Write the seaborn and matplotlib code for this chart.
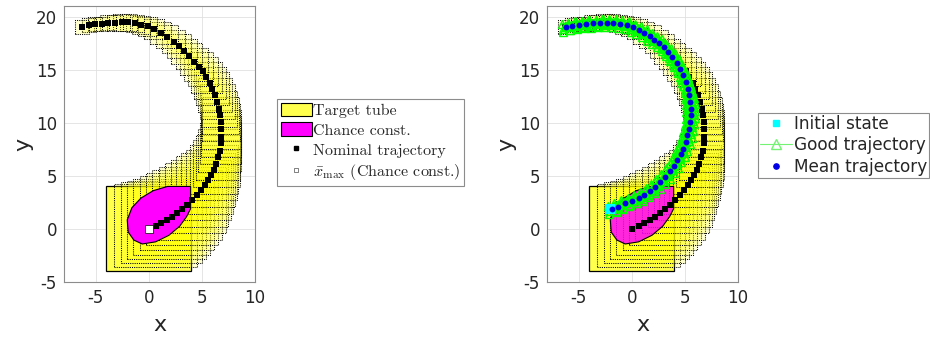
import numpy as np
import pandas as pd
import matplotlib
matplotlib.use("Agg")
import matplotlib.pyplot as plt
import seaborn as sns
from matplotlib.patches import Rectangle, Polygon, Patch
from matplotlib.lines import Line2D

# ---------------- data ----------------
nom_x = [0.0, 0.63, 1.16, 1.67, 2.14, 2.67, 3.14, 3.61, 4.08, 4.50, 4.90, 5.25, 5.58, 5.88,
         6.13, 6.35, 6.53, 6.67, 6.76, 6.80, 6.80, 6.77, 6.72, 6.60, 6.45, 6.22, 5.97, 5.72,
         5.41, 5.09, 4.68, 4.25, 3.79, 3.31, 2.83, 2.33, 1.70, 1.12, 0.50, -0.10, -0.72,
         -1.32, -1.95, -2.58, -3.21, -3.84, -4.45, -5.06, -5.66, -6.29]
nom_y = [0.0, 0.31, 0.59, 0.85, 1.10, 1.47, 1.85, 2.25, 2.72, 3.19, 3.66, 4.13, 4.60, 5.08,
         5.58, 6.15, 6.75, 7.38, 8.05, 8.70, 9.40, 10.05, 10.70, 11.33, 11.96, 12.58, 13.21,
         13.74, 14.30, 14.84, 15.30, 15.77, 16.28, 16.74, 17.21, 17.65, 18.12, 18.47, 18.81,
         19.09, 19.25, 19.37, 19.47, 19.47, 19.44, 19.44, 19.31, 19.31, 19.22, 19.03]
tube_half = [4.0, 3.9, 3.8, 3.7, 3.6, 3.5, 3.4, 3.3, 3.15, 3.0, 2.85, 2.7, 2.55, 2.4,
             2.3, 2.2, 2.1, 2.0, 1.95, 1.9, 1.85, 1.8, 1.75, 1.7, 1.65, 1.6, 1.55, 1.5,
             1.45, 1.4, 1.35, 1.3, 1.25, 1.2, 1.15, 1.1, 1.05, 1.0, 0.95, 0.9, 0.85, 0.82,
             0.8, 0.78, 0.75, 0.72, 0.7, 0.68, 0.66, 0.64]

chance_x = [3.93, 1.75, 0.40, -0.75, -1.60, -2.04, -1.95, -1.42, -0.63, 0.63, 1.89, 2.90, 3.55, 3.93]
chance_y = [4.00, 4.00, 3.60, 2.90, 2.00, 0.85, -0.30, -1.05, -1.42, -1.22, -0.60, 0.25, 1.15, 1.90]

mean_x = [-1.90, -1.27, -0.63, 0.0, 0.63, 1.17, 1.74, 2.22, 2.69, 3.16, 3.58, 3.96, 4.27,
          4.59, 4.81, 5.06, 5.22, 5.38, 5.47, 5.54, 5.54, 5.51, 5.41, 5.28, 5.06, 4.84,
          4.53, 4.21, 3.80, 3.42, 3.01, 2.59, 2.12, 1.68, 1.17, 0.63, 0.09, -0.47, -1.11,
          -1.74, -2.37, -3.01, -3.64, -4.34, -4.97, -5.60, -6.23]
mean_y = [1.85, 2.10, 2.41, 2.63, 2.88, 3.19, 3.60, 3.97, 4.44, 4.91, 5.45, 5.95, 6.48,
          7.04, 7.57, 8.20, 8.83, 9.45, 10.08, 10.70, 11.33, 11.96, 12.58, 13.21, 13.83,
          14.46, 15.09, 15.62, 16.18, 16.65, 17.12, 17.50, 17.84, 18.15, 18.47, 18.75,
          19.00, 19.22, 19.31, 19.41, 19.44, 19.41, 19.37, 19.31, 19.25, 19.12, 19.00]

init_x = [-2.05]
init_y = [1.85]

# offsets of the individual good trajectories around the mean (estimated band)
good_dx = [-0.40, -0.22, 0.0, 0.22, 0.40, -0.30, 0.30]
good_dy = [0.30, -0.40, 0.0, 0.35, -0.22, -0.12, 0.12]

x_ticks = [-5, 0, 5, 10]
y_ticks = [-5, 0, 5, 10, 15, 20]

left_labels = ["Target tube", "Chance const.", "Nominal trajectory",
               r"$\bar{x}_{\max}$ (Chance const.)"]
right_labels = ["Initial state", "Good trajectory", "Mean trajectory"]

# ---------------- style ----------------
sns.set_theme(style="white")
plt.rcParams["font.family"] = ["DejaVu Sans"]
plt.rcParams["axes.unicode_minus"] = False
plt.rcParams["mathtext.fontset"] = "cm"

fig = plt.figure(figsize=(9.3, 3.41), dpi=100)
axL = fig.add_axes([0.0688, 0.1730, 0.2054, 0.8094])
axR = fig.add_axes([0.5882, 0.1730, 0.2054, 0.8094])

BOX0 = (1.0, 1.0, 0.3)


def draw_tube(ax):
    for i, (cx, cy, h) in enumerate(zip(nom_x, nom_y, tube_half)):
        if i == 0:
            ax.add_patch(Rectangle((cx - h, cy - h), 2 * h, 2 * h,
                                   facecolor=BOX0, edgecolor="black",
                                   lw=0.9, zorder=1))
        else:
            ax.add_patch(Rectangle((cx - h, cy - h), 2 * h, 2 * h,
                                   facecolor=(1.0, 1.0, 0.0, 0.19), edgecolor="black",
                                   ls=(0, (1, 1.1)), lw=0.75, zorder=1.1))


def style_axes(ax):
    ax.set_xlim(-8, 10)
    ax.set_ylim(-5, 21)
    ax.set_aspect("equal", adjustable="box")
    ax.set_xticks(x_ticks)
    ax.set_yticks(y_ticks)
    ax.set_xticklabels([str(t) for t in x_ticks])
    ax.set_yticklabels([str(t) for t in y_ticks])
    ax.grid(True, color="0.88", lw=0.6)
    ax.set_axisbelow(True)
    for s in ax.spines.values():
        s.set_color("0.55")
        s.set_linewidth(0.8)
    ax.tick_params(direction="in", length=3, color="0.55", labelsize=12,
                   labelcolor="0.15", pad=5)
    ax.set_xlabel("x", fontsize=16, color="0.15", labelpad=6)
    ax.set_ylabel("y", fontsize=16, color="0.15", labelpad=2)


# ---------------- left panel ----------------
draw_tube(axL)
axL.add_patch(Polygon(np.column_stack([chance_x, chance_y]), closed=True,
                      facecolor=(1, 0, 1), edgecolor="black", lw=0.8, zorder=2))
sns.scatterplot(x=nom_x[1:], y=nom_y[1:], marker="s", color="black", s=17,
                linewidth=0, ax=axL, zorder=4)
sns.scatterplot(x=nom_x[:1], y=nom_y[:1], marker="s", color="white", s=38,
                edgecolor="black", linewidth=0.5, ax=axL, zorder=5)
style_axes(axL)

hL = [Patch(facecolor=BOX0, edgecolor="black", lw=0.8),
      Patch(facecolor=(1, 0, 1), edgecolor="black", lw=0.8),
      Line2D([], [], ls="none", marker="s", ms=3.4, color="black"),
      Line2D([], [], ls="none", marker="s", ms=3.4, mfc="white", mec="0.3", mew=0.5)]
legL = fig.legend(hL, left_labels, loc="upper left",
                  bbox_to_anchor=(277 / 930, 1 - 99 / 341),
                  prop={"family": "cmr10", "size": 11.5}, frameon=True, fancybox=False,
                  edgecolor="0.55", framealpha=1, handlelength=1.95, handleheight=0.95,
                  handletextpad=0.1, labelspacing=0.28, borderpad=0.22,
                  borderaxespad=0)
legL.get_frame().set_linewidth(0.8)

# ---------------- right panel ----------------
draw_tube(axR)
axR.add_patch(Polygon(np.column_stack([chance_x, chance_y]), closed=True,
                      facecolor=(1, 0, 1, 0.85), edgecolor="black", lw=0.8, zorder=2))
sns.scatterplot(x=nom_x, y=nom_y, marker="s", color="black", s=17,
                linewidth=0, ax=axR, zorder=4)
for dx, dy in zip(good_dx, good_dy):
    gx = [v + dx for v in mean_x]
    gy = [v + dy for v in mean_y]
    sns.lineplot(x=gx, y=gy, sort=False, estimator=None, color=(0, 1, 0), lw=1.0,
                 marker="^", markersize=6, markerfacecolor="none",
                 markeredgecolor=(0, 1, 0), markeredgewidth=1.0, ax=axR, zorder=5)
sns.scatterplot(x=init_x, y=init_y, marker="s", color=(0, 1, 1), s=55,
                linewidth=0, ax=axR, zorder=6)
sns.scatterplot(x=mean_x, y=mean_y, marker="o", color=(0, 0, 0.9), s=18,
                linewidth=0, ax=axR, zorder=7)
style_axes(axR)

hR = [Line2D([], [], ls="none", marker="s", ms=3.8, color=(0, 1, 1)),
      Line2D([], [], color=(0.45, 0.95, 0.45), lw=0.8, marker="^", ms=7,
             mfc="none", mec=(0.45, 0.95, 0.45)),
      Line2D([], [], ls="none", marker="o", ms=3.8, color=(0, 0, 0.9))]
legR = fig.legend(hR, right_labels, loc="upper left",
                  bbox_to_anchor=(758 / 930, 1 - 113 / 341),
                  prop={"family": "DejaVu Sans", "size": 12.2}, frameon=True,
                  fancybox=False, edgecolor="0.55", framealpha=1, handlelength=1.9,
                  handletextpad=0.1, labelspacing=0.2, borderpad=0.12,
                  borderaxespad=0)
legR.get_frame().set_linewidth(0.8)

fig.savefig("out.png", dpi=100)
